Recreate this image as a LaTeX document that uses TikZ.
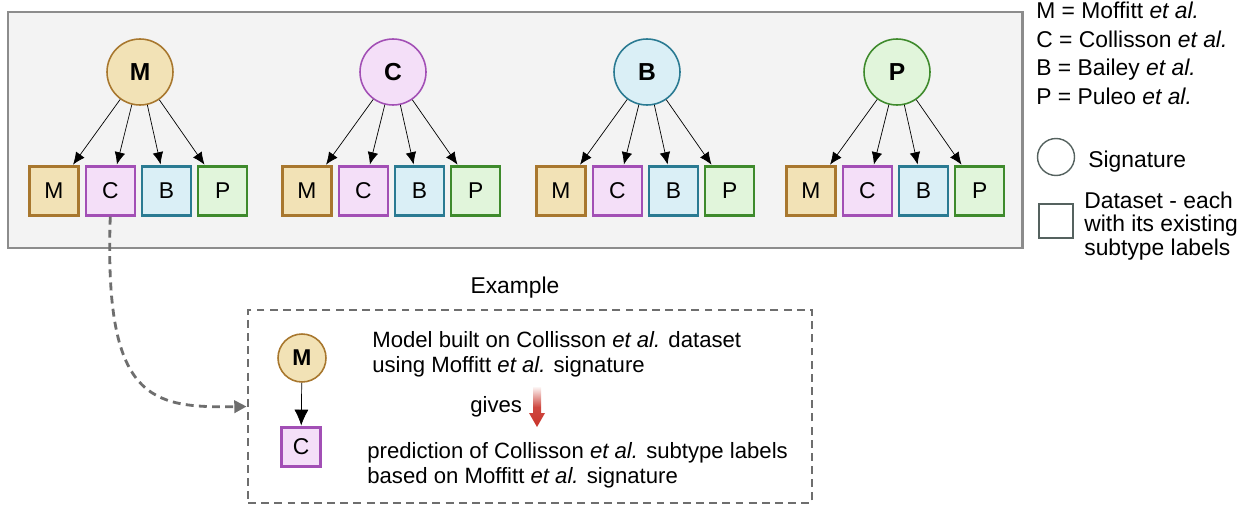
\documentclass[tikz,border=0pt]{standalone}
\usepackage{fontspec}
\setmainfont{Liberation Sans}
\usetikzlibrary{arrows.meta}
\usetikzlibrary{positioning, fit}
\definecolor{mfill}{HTML}{F2E2B6}
\definecolor{mdraw}{HTML}{A8772E}
\definecolor{cfill}{HTML}{F4DFF8}
\definecolor{cdraw}{HTML}{A24FB5}
\definecolor{bfill}{HTML}{DAEFF6}
\definecolor{bdraw}{HTML}{2A7A92}
\definecolor{pfill}{HTML}{E1F5DB}
\definecolor{pdraw}{HTML}{3E8A2C}
\definecolor{panelfill}{HTML}{F3F3F3}
\definecolor{paneldraw}{HTML}{8C8C8C}
\definecolor{legenddraw}{HTML}{55625F}
\definecolor{dashgray}{HTML}{6E6E6E}
\definecolor{arrowred}{HTML}{C9342B}
\newcommand\txtsize{\fontsize{13}{15}\selectfont}
\newcommand\extxtsize{\fontsize{12.6}{15}\selectfont}
\tikzset{
  >=latex,
  sig node/.style={circle,line width=0.9pt,minimum size=1.32cm,inner sep=0,font=\bfseries\fontsize{14}{16}\selectfont},
  data node/.style={rectangle,line width=1.3pt,minimum size=0.98cm,inner sep=0,font=\txtsize},
  col M/.style={draw=mdraw,fill=mfill},
  col C/.style={draw=cdraw,fill=cfill},
  col B/.style={draw=bdraw,fill=bfill},
  col P/.style={draw=pdraw,fill=pfill},
  connect arrow/.style={-{Latex[length=7,width=6]},thin,black,shorten >=0.5},
  label text/.style={anchor=base west,inner sep=0,font=\txtsize},
  dash link/.style={dashgray,line width=1.6pt,dash pattern=on 4.5pt off 3pt,-{Triangle[length=7pt,width=7pt]}}
}

\begin{document}
\begin{tikzpicture}[x=0.02cm,y=-0.02cm]
\useasboundingbox (0,0) rectangle (1247,507);
% grey panel with the four signatures
\draw[fill=panelfill,draw=paneldraw,line width=1.7pt] (8,12) rectangle (1022,248);
\foreach \L/\X [count=\g] in {M/140,C/393,B/647,P/897}
{
  \node[sig node,col \L] (S\g) at (\X,72) {\L};
  \node[data node,col M] (S\g-M) at (\X-86,191) {M};
  \node[data node,col C,right=0.1cm of S\g-M] (S\g-C) {C};
  \node[data node,col B,right=0.1cm of S\g-C] (S\g-B) {B};
  \node[data node,col P,right=0.1cm of S\g-B] (S\g-P) {P};
  \foreach \D in {M,C,B,P}
    {\draw[connect arrow] (S\g) -- (S\g-\D);}
}
% legend
\node[label text] (L1) at (1036,18) {M = Moffitt \textit{et al.}};
\node[label text] (L2) at (1036,47) {C = Collisson \textit{et al.}};
\node[label text] (L3) at (1036,75) {B = Bailey \textit{et al.}};
\node[label text] (L4) at (1036,104) {P = Puleo \textit{et al.}};
\node[circle,draw=legenddraw,line width=0.8pt,minimum size=0.74cm,inner sep=0] (Lsig) at (1056,157) {};
\node[label text] (Lsigtxt) at (1088,167) {Signature};
\node[rectangle,draw=legenddraw,line width=0.8pt,minimum size=0.68cm,inner sep=0] (Ldata) at (1056,221) {};
\node[label text] (Ld1) at (1084,208) {Dataset - each};
\node[label text] (Ld2) at (1084,231) {with its existing};
\node[label text] (Ld3) at (1084,255) {subtype labels};
% example
\node[label text,anchor=base] (extitle) at (515,293) {Example};
\node[draw=dashgray,line width=1.6pt,dash pattern=on 4.5pt off 3pt,inner sep=0,fit={(248,310) (812,503)}] (ex) {};
\node[sig node,col M,minimum size=0.96cm,font=\bfseries\fontsize{13}{15}\selectfont] (eM) at (302,358) {M};
\node[data node,col C,minimum size=0.78cm] (eC) at (301,447) {C};
\draw[connect arrow,-{Latex[length=9,width=8]}] (eM) -- (eC);
\node[label text,font=\extxtsize] (t1) at (372,347) {Model built on Collisson \textit{et al.} dataset};
\node[label text,font=\extxtsize] (t2) at (372,372) {using Moffitt \textit{et al.} signature};
\node[label text,font=\extxtsize] (t3) at (470,412) {gives};
\node[label text,font=\extxtsize] (t4) at (367,458) {prediction of Collisson \textit{et al.} subtype labels};
\node[label text,font=\extxtsize] (t5) at (367,483) {based on Moffitt \textit{et al.} signature};
\shade[top color=arrowred!5,bottom color=arrowred,middle color=arrowred!90]
  (533,387) -- (541,387) -- (541,413) -- (545,413) -- (537,427) -- (529,413) -- (533,413) -- cycle;
\draw[dash link] (S1-C.south) .. controls (104,400) and (150,408) .. (ex.west);
\end{tikzpicture}
\end{document}
